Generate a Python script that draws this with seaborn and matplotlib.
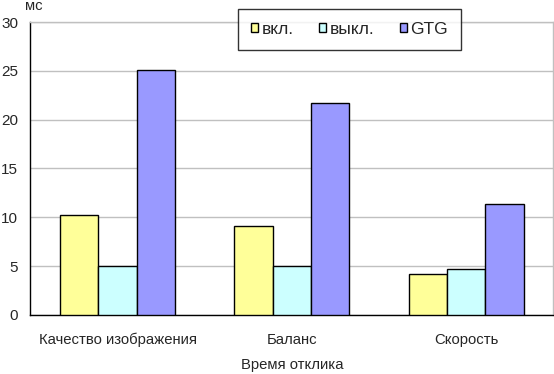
import pandas as pd
import seaborn as sns
import matplotlib.pyplot as plt

# --- Data ---
categories = ["Качество изображения", "Баланс", "Скорость"]
series = ["вкл.", "выкл.", "GTG"]
vkl = [10.2, 9.1, 4.2]
vykl = [5.05, 5.0, 4.7]
gtg = [25.1, 21.7, 11.4]
colors = ["#FFFF99", "#CCFFFF", "#9999FF"]

df = pd.DataFrame({
    "cat": categories * 3,
    "series": [series[0]] * 3 + [series[1]] * 3 + [series[2]] * 3,
    "value": vkl + vykl + gtg,
})

sns.set_style("white")
plt.rcParams["font.family"] = ["Liberation Sans", "DejaVu Sans"]

fig = plt.figure(figsize=(5.54, 3.74), dpi=100)
ax = fig.add_axes([0.055, 0.158, 0.944, 0.783])

sns.barplot(
    data=df, x="cat", y="value", hue="series", hue_order=series,
    palette=colors, width=0.66, gap=0, edgecolor="black", linewidth=1,
    saturation=1, ax=ax, legend=False, zorder=3
)

# --- Axes styling ---
ax.set_ylim(0, 30)
ax.set_xlim(-0.5, 2.5)
ax.set_yticks(range(0, 31, 5))
ax.yaxis.grid(True, color="#c0c0c0", linewidth=1, zorder=0)
ax.set_axisbelow(True)
for s in ["left", "bottom"]:
    ax.spines[s].set_color("black")
    ax.spines[s].set_linewidth(1)
for s in ["top", "right"]:
    ax.spines[s].set_color("#c0c0c0")
    ax.spines[s].set_linewidth(1)

ax.set_xticks([-0.5, 0.5, 1.5, 2.5], minor=False)
ax.set_xticklabels([])
ax.set_xticks([0, 1, 2], minor=True)
ax.set_xticklabels(categories, minor=True)
ax.tick_params(axis="x", which="major", direction="out", length=5, width=1, color="black")
ax.tick_params(axis="x", which="minor", length=0, pad=13, labelsize=10.7)
ax.tick_params(axis="y", direction="out", length=5, width=1, color="black",
               labelsize=11, pad=4)
ax.set_xlabel("Время отклика", fontsize=10.7, labelpad=8)
ax.set_ylabel("")

fig.text(25 / 554, 1 - 10 / 374, "мс", fontsize=10.7, ha="left", va="baseline")

# --- Legend ---
handles = [plt.Rectangle((0, 0), 1, 1, facecolor=c, edgecolor="black", linewidth=1)
           for c in colors]
leg = fig.legend(
    handles, series, ncol=3, loc="upper left",
    bbox_to_anchor=(238 / 554, 1 - 9 / 374),
    frameon=True, fancybox=False, fontsize=12.5,
    handlelength=0.42, handleheight=0.42, handletextpad=0.2,
    borderaxespad=0, borderpad=0.75, columnspacing=1.45
)
leg.get_frame().set_edgecolor("black")
leg.get_frame().set_linewidth(1)

fig.savefig("out.png", dpi=100)
